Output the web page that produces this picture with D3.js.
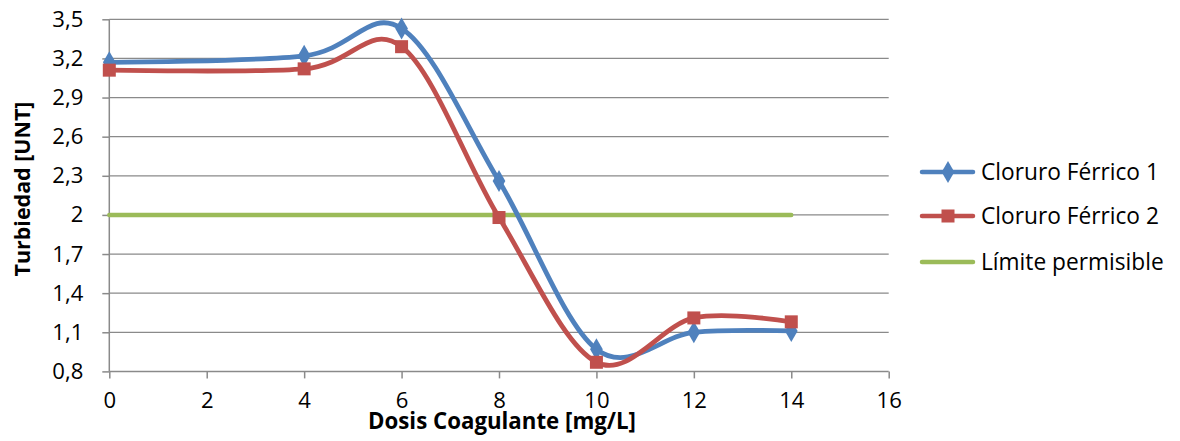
<!DOCTYPE html>
<html><head><meta charset="utf-8">
<script src="https://cdn.jsdelivr.net/npm/d3@7/dist/d3.min.js"></script>
<style>body{margin:0;background:#fff}svg{display:block}text{font-family:"Open Sans",Lato,sans-serif;fill:#000}</style>
</head><body>
<svg id="c" width="1180" height="441"></svg>
<script>
const doses = [0, 4, 6, 8, 10, 12, 14];
const cloruro1 = [3.17, 3.22, 3.43, 2.26, 0.97, 1.10, 1.11];
const cloruro2 = [3.11, 3.12, 3.29, 1.98, 0.87, 1.21, 1.18];
const limiteX = [0, 14];
const limiteY = [2, 2];
const xTicks = [0, 2, 4, 6, 8, 10, 12, 14, 16];
const yTicks = [0.8, 1.1, 1.4, 1.7, 2.0, 2.3, 2.6, 2.9, 3.2, 3.5];
const seriesNames = ["Cloruro Férrico 1", "Cloruro Férrico 2", "Límite permisible"];
const colors = ["#4F81BD", "#C0504D", "#9BBB59"];

const svg = d3.select("#c");
const x = d3.scaleLinear().domain([0, 16]).range([109.3, 888.7]);
const y = d3.scaleLinear().domain([0.8, 3.5]).range([371.4, 19.3]);
const fmt = d => String(+d.toFixed(1)).replace(".", ",");

function fitSize(str, target, weight) {
  const t = svg.append("text").attr("font-size", 20).attr("font-weight", weight || "normal").text(str);
  const w = t.node().getComputedTextLength();
  t.remove();
  return 20 * target / w;
}
const tickFs = fitSize("3,5", 31);
const legFs = fitSize("Cloruro Férrico 1", 178);
const xtFs = fitSize("Dosis Coagulante [mg/L]", 268, "bold");
const ytFs = fitSize("Turbiedad [UNT]", 175, "bold");

// gridlines
svg.append("g").selectAll("line").data(yTicks.slice(1)).join("line")
  .attr("x1", x(0)).attr("x2", x(16)).attr("y1", d => y(d)).attr("y2", d => y(d))
  .attr("stroke", "#8a8a8a").attr("stroke-width", 1.3);

// axes
const yAxis = svg.append("g").attr("transform", `translate(${x(0)},0)`)
  .call(d3.axisLeft(y).tickValues(yTicks).tickFormat(fmt).tickSize(7).tickPadding(19));
const xAxis = svg.append("g").attr("transform", `translate(0,${y(0.8)})`)
  .call(d3.axisBottom(x).tickValues(xTicks).tickFormat(d => d).tickSize(7).tickPadding(20));
[yAxis, xAxis].forEach(g => {
  g.select(".domain").attr("stroke", "#8a8a8a").attr("stroke-width", 1.5);
  g.selectAll(".tick line").attr("stroke", "#8a8a8a").attr("stroke-width", 1.5);
  g.selectAll(".tick text").attr("font-size", tickFs).attr("font-family", "'Open Sans', sans-serif").attr("fill", "#000");
});
xAxis.selectAll(".tick text").attr("dy", "0").attr("y", 37);
xAxis.select(".domain").attr("d", `M${x(0)},0H${x(16)}`);
yAxis.select(".domain").attr("d", `M0,${y(0.8)}V${y(3.5)}`);

// limit line
svg.append("path").datum(limiteX.map((d, i) => [d, limiteY[i]]))
  .attr("d", d3.line().x(d => x(d[0])).y(d => y(d[1])))
  .attr("fill", "none").attr("stroke", colors[2]).attr("stroke-width", 4.5).attr("stroke-linecap", "round");

const line = d3.line().x(d => x(d[0])).y(d => y(d[1])).curve(d3.curveCardinal.tension(0));
const s1 = doses.map((d, i) => [d, cloruro1[i]]);
const s2 = doses.map((d, i) => [d, cloruro2[i]]);

svg.append("path").datum(s1).attr("d", line).attr("fill", "none")
  .attr("stroke", colors[0]).attr("stroke-width", 4.8);
svg.append("path").datum(s2).attr("d", line).attr("fill", "none")
  .attr("stroke", colors[1]).attr("stroke-width", 4.8);

const diamond = d3.symbol().type(d3.symbolDiamond).size(140);
svg.append("g").selectAll("path").data(s1).join("path")
  .attr("transform", d => `translate(${x(d[0])},${y(d[1])})`).attr("d", diamond).attr("fill", colors[0]);
svg.append("g").selectAll("rect").data(s2).join("rect")
  .attr("x", d => x(d[0]) - 6.5).attr("y", d => y(d[1]) - 6.5).attr("width", 13).attr("height", 13)
  .attr("fill", colors[1]);

// axis titles
svg.append("text").attr("x", 502).attr("y", 429).attr("text-anchor", "middle")
  .attr("font-size", xtFs).attr("font-weight", "bold").text("Dosis Coagulante [mg/L]");
svg.append("text").attr("transform", "translate(30,189) rotate(-90)").attr("text-anchor", "middle")
  .attr("font-size", ytFs).attr("font-weight", "bold").text("Turbiedad [UNT]");

// legend
const ly = [172, 216, 262];
const lg = svg.append("g");
seriesNames.forEach((n, i) => {
  lg.append("line").attr("x1", 922).attr("x2", 973).attr("y1", ly[i]).attr("y2", ly[i])
    .attr("stroke", colors[i]).attr("stroke-width", 4.5).attr("stroke-linecap", "round");
  if (i === 0) lg.append("path").attr("transform", `translate(948,${ly[i]})`).attr("d", diamond).attr("fill", colors[0]);
  if (i === 1) lg.append("rect").attr("x", 941.5).attr("y", ly[i] - 6.5).attr("width", 13).attr("height", 13).attr("fill", colors[1]);
  lg.append("text").attr("x", 981).attr("y", ly[i]).attr("dy", "0.35em").attr("font-size", legFs).text(n);
});
</script>
</body></html>
